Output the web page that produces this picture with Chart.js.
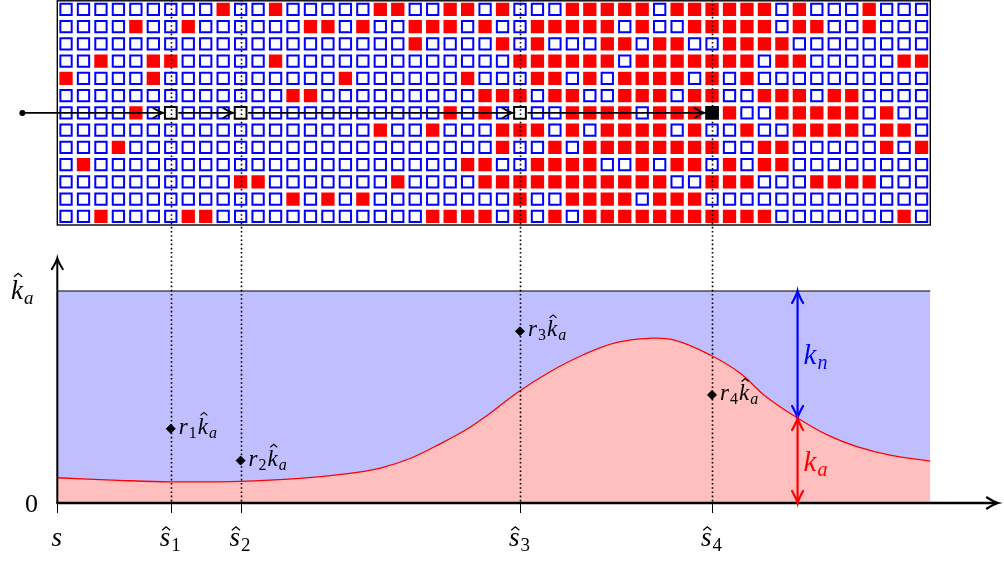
<!DOCTYPE html>
<html>
<head>
<meta charset="utf-8">
<script src="https://cdn.jsdelivr.net/npm/chart.js@4.4.0/dist/chart.umd.min.js"></script>
<style>
  html, body { margin: 0; padding: 0; background: #fff; }
  #wrap { position: relative; width: 1004px; height: 561px; }
  canvas { position: absolute; left: 0; top: 0; }
</style>
</head>
<body>
<div id="wrap">
  <canvas id="curve" width="1004" height="561"></canvas>
  <canvas id="grid" width="1004" height="561"></canvas>
</div>
<script>
// grid: red cells per row (13 rows x 50 columns), the rest are blue
const nCols = 50;
const nRows = 13;
const redCols = [
  [9, 12, 18, 19, 22, 23, 25, 29, 30, 31, 32, 33, 35, 36, 37, 38, 39, 40, 42, 46],
  [4, 7, 14, 15, 17, 20, 21, 22, 24, 27, 28, 29, 30, 31, 33, 36, 37, 38, 39, 40, 42, 43, 46],
  [20, 25, 27, 31, 32, 34, 35, 38, 39, 40, 41],
  [2, 5, 6, 12, 26, 27, 28, 29, 30, 31, 33, 34, 35, 36, 37, 38, 39, 41, 42, 48, 49],
  [0, 5, 16, 23, 27, 28, 30, 32, 33, 34, 35, 37, 39],
  [13, 14, 24, 25, 26, 28, 29, 32, 33, 34, 36, 37, 40, 41, 42, 44, 45],
  [4, 22, 24, 29, 30, 31, 32, 34, 35, 36, 37, 38, 41, 42, 43, 44, 45, 47],
  [18, 21, 25, 26, 27, 29, 31, 32, 33, 34, 36, 39, 42, 43, 44, 45, 47, 48],
  [3, 25, 28, 30, 31, 32, 33, 34, 35, 36, 37, 40, 41, 47, 49],
  [1, 23, 24, 27, 28, 29, 30, 33, 35, 36, 38, 40, 41],
  [10, 11, 19, 24, 25, 26, 27, 28, 29, 30, 31, 32, 33, 34, 37, 38, 39, 43, 44, 45, 46],
  [13, 15, 17, 26, 29, 30, 31, 32, 34, 35, 36],
  [2, 7, 8, 21, 22, 23, 24, 26, 28, 30, 31, 32, 33, 34, 35, 36, 37, 38, 39, 40, 48]
];

// sampled path through row 6
const pathRow = 6;
const pathStart = -2.5;
const pathCols = [6, 10, 26, 37];
const pathSubs = ['1', '2', '3', '4'];
const rValues = [0.35, 0.20, 0.81, 0.51];

// k_a curve (x in grid columns, y as fraction of k-hat_a)
const curveX = [-0.5, 3, 6, 10, 13.4, 16, 18, 19.7, 21.4, 23, 24.1, 25.9, 27.7, 29.6, 31.5, 33.4, 34.8, 36.9, 38.6, 40.1, 41.9, 43.6, 45.3, 47.2, 49.5];
const curveY = [0.119, 0.107, 0.100, 0.102, 0.116, 0.137, 0.165, 0.210, 0.278, 0.350, 0.412, 0.524, 0.618, 0.698, 0.756, 0.777, 0.769, 0.698, 0.613, 0.501, 0.401, 0.321, 0.266, 0.226, 0.198];
const kHat = 1;
const kArrowX = 41.9;
const kArrowY = 0.401;
const xAxisMax = 53.38;
const yAxisTop = 1.155;

const FONT = '"Liberation Serif", "DejaVu Serif", serif';

// draws a small formula: parts = [{t, it, sub, hat}]
function drawMath(ctx, x, y, parts, size, color, align) {
  ctx.save();
  ctx.fillStyle = color;
  ctx.strokeStyle = color;
  ctx.textAlign = 'left';
  ctx.textBaseline = 'alphabetic';
  const fonts = parts.map(p => (p.it ? 'italic ' : '') + Math.round(p.sub ? size * 0.7 : size) + 'px ' + FONT);
  const widths = parts.map((p, i) => { ctx.font = fonts[i]; return ctx.measureText(p.t).width + 1; });
  const total = widths.reduce((a, b) => a + b, 0);
  let cx = align === 'center' ? x - total / 2 : x;
  parts.forEach((p, i) => {
    ctx.font = fonts[i];
    ctx.fillText(p.t, cx, y + (p.sub ? size * 0.18 : 0));
    if (p.hat) {
      const hx = cx + widths[i] * 0.55;
      const hy = y - size * p.hat;
      ctx.lineWidth = Math.max(1.1, size * 0.05);
      ctx.lineJoin = 'miter';
      ctx.beginPath();
      ctx.moveTo(hx - size * 0.15, hy + size * 0.08);
      ctx.lineTo(hx, hy - size * 0.05);
      ctx.lineTo(hx + size * 0.15, hy + size * 0.08);
      ctx.stroke();
    }
    cx += widths[i];
  });
  ctx.restore();
}

// latex style arrow tip, pointing along ang
function arrowHead(ctx, x, y, ang, len, half) {
  ctx.save();
  ctx.translate(x, y);
  ctx.rotate(ang);
  ctx.lineCap = 'round';
  ctx.beginPath();
  ctx.moveTo(-len, -half);
  ctx.quadraticCurveTo(-len * 0.3, -half * 0.15, 0, 0);
  ctx.quadraticCurveTo(-len * 0.3, half * 0.15, -len, half);
  ctx.stroke();
  ctx.restore();
}

// ---------------- lower chart ----------------
const curvePts = curveX.map((x, i) => ({ x: x, y: curveY[i] }));
const rPts = pathCols.map((c, i) => ({ x: c, y: rValues[i] }));

const curvePlugin = {
  id: 'curveDeco',
  afterDraw(chart) {
    const ctx = chart.ctx;
    const xs = chart.scales.x, ys = chart.scales.y;
    const y0 = ys.getPixelForValue(0);
    const x0 = xs.getPixelForValue(-0.5);
    ctx.save();
    ctx.strokeStyle = '#000';
    // axes
    ctx.lineWidth = 2.3;
    ctx.beginPath();
    ctx.moveTo(x0 - 1, y0);
    ctx.lineTo(xs.getPixelForValue(xAxisMax) - 1, y0);
    ctx.stroke();
    arrowHead(ctx, xs.getPixelForValue(xAxisMax), y0, 0, 11, 5.5);
    ctx.lineWidth = 2;
    ctx.beginPath();
    ctx.moveTo(x0, y0);
    ctx.lineTo(x0, ys.getPixelForValue(yAxisTop) + 1);
    ctx.stroke();
    arrowHead(ctx, x0, ys.getPixelForValue(yAxisTop), -Math.PI / 2, 11, 5.5);
    // ticks
    ctx.lineWidth = 1;
    [-0.5].concat(pathCols).forEach(c => {
      const px = Math.round(xs.getPixelForValue(c)) + 0.5;
      ctx.beginPath();
      ctx.moveTo(px, y0);
      ctx.lineTo(px, y0 + 10);
      ctx.stroke();
    });
    ctx.restore();

    // tick labels
    drawMath(ctx, x0, 546, [{ t: 's', it: true }], 27, '#000', 'center');
    pathCols.forEach((c, i) => {
      drawMath(ctx, xs.getPixelForValue(c), 546, [{ t: 's', it: true, hat: 0.66 }, { t: pathSubs[i], sub: true }], 27, '#000', 'center');
    });
    drawMath(ctx, 32, 512, [{ t: '0' }], 26, '#000', 'center');
    drawMath(ctx, 11, ys.getPixelForValue(kHat) + 8, [{ t: 'k', it: true, hat: 0.9 }, { t: 'a', it: true, sub: true }], 27, '#000', 'left');

    // r_i k-hat labels
    rPts.forEach((p, i) => {
      drawMath(ctx, xs.getPixelForValue(p.x) + 8, ys.getPixelForValue(p.y) + 5,
        [{ t: 'r', it: true }, { t: pathSubs[i], sub: true }, { t: 'k', it: true, hat: 0.88 }, { t: 'a', it: true, sub: true }],
        23, '#000', 'left');
    });

    // k_n / k_a arrows
    const ax = xs.getPixelForValue(kArrowX);
    const aTop = ys.getPixelForValue(kHat);
    const aMid = ys.getPixelForValue(kArrowY);
    ctx.save();
    ctx.lineWidth = 2.2;
    ctx.strokeStyle = '#0000ff';
    ctx.beginPath();
    ctx.moveTo(ax, aTop + 1);
    ctx.lineTo(ax, aMid - 1);
    ctx.stroke();
    arrowHead(ctx, ax, aTop, -Math.PI / 2, 12, 5.5);
    arrowHead(ctx, ax, aMid, Math.PI / 2, 12, 5.5);
    ctx.strokeStyle = '#ff0000';
    ctx.beginPath();
    ctx.moveTo(ax, aMid + 1);
    ctx.lineTo(ax, y0 - 1);
    ctx.stroke();
    arrowHead(ctx, ax, aMid, -Math.PI / 2, 12, 5.5);
    arrowHead(ctx, ax, y0, Math.PI / 2, 12, 5.5);
    ctx.restore();
    drawMath(ctx, ax + 6, 364, [{ t: 'k', it: true }, { t: 'n', it: true, sub: true }], 29, '#0000ff', 'left');
    drawMath(ctx, ax + 6, 471, [{ t: 'k', it: true }, { t: 'a', it: true, sub: true }], 29, '#ff0000', 'left');
  }
};

const curveChart = new Chart(document.getElementById('curve').getContext('2d'), {
  type: 'scatter',
  data: {
    datasets: [
      {
        label: 'r k-hat',
        data: rPts,
        order: 0,
        pointStyle: 'rectRot',
        pointRadius: 4.5,
        pointBackgroundColor: '#000',
        pointBorderColor: '#000',
        pointBorderWidth: 1
      },
      {
        label: 'k_a',
        data: curvePts,
        order: 1,
        showLine: true,
        borderColor: '#ff0000',
        borderWidth: 1.3,
        backgroundColor: '#ffbfbf',
        fill: 'origin',
        pointRadius: 0,
        tension: 0.4,
        clip: 4
      },
      {
        label: 'k-hat',
        data: [{ x: -0.5, y: kHat }, { x: 49.5, y: kHat }],
        order: 2,
        showLine: true,
        borderColor: '#000',
        borderWidth: 1.2,
        backgroundColor: '#bfbfff',
        fill: 'origin',
        pointRadius: 0,
        clip: 4
      }
    ]
  },
  options: {
    responsive: false,
    animation: false,
    events: [],
    devicePixelRatio: 1,
    layout: { autoPadding: false, padding: { left: 57.3, right: 6, top: 291, bottom: 58 } },
    plugins: { legend: { display: false }, tooltip: { enabled: false } },
    scales: {
      x: { type: 'linear', min: -0.5, max: xAxisMax, display: false },
      y: { type: 'linear', min: 0, max: kHat, display: false }
    }
  },
  plugins: [curvePlugin]
});

// ---------------- grid on top ----------------
const redPts = [], bluePts = [], markPts = [], markFill = [];
for (let r = 0; r < nRows; r++) {
  for (let c = 0; c < nCols; c++) {
    const isRed = redCols[r].includes(c);
    if (r === pathRow && pathCols.includes(c)) {
      markPts.push({ x: c, y: r });
      markFill.push(isRed ? '#000' : '#fff');
    } else if (isRed) {
      redPts.push({ x: c, y: r });
    } else {
      bluePts.push({ x: c, y: r });
    }
  }
}

const gridPlugin = {
  id: 'gridDeco',
  afterDraw(chart) {
    const ctx = chart.ctx;
    const xs = chart.scales.x, ys = chart.scales.y;
    const left = xs.getPixelForValue(-0.5), right = xs.getPixelForValue(nCols - 0.5);
    const top = ys.getPixelForValue(-0.5), bottom = ys.getPixelForValue(nRows - 0.5);
    ctx.save();
    ctx.strokeStyle = '#000';
    ctx.lineWidth = 1.4;
    ctx.strokeRect(left, top, right - left, bottom - top);

    // path arrows
    const py = ys.getPixelForValue(pathRow);
    const half = 7.5;
    ctx.lineWidth = 1.8;
    let from = xs.getPixelForValue(pathStart);
    pathCols.forEach(c => {
      const to = xs.getPixelForValue(c) - half;
      ctx.beginPath();
      ctx.moveTo(from, py);
      ctx.lineTo(to - 1, py);
      ctx.stroke();
      arrowHead(ctx, to, py, 0, 10, 5);
      from = xs.getPixelForValue(c) + half;
    });
    ctx.fillStyle = '#000';
    ctx.beginPath();
    ctx.arc(xs.getPixelForValue(pathStart), py, 3, 0, Math.PI * 2);
    ctx.fill();

    // dotted guide lines down to the lower axis
    const yEnd = curveChart.scales.y.getPixelForValue(0);
    ctx.lineWidth = 1.6;
    ctx.setLineDash([1.6, 2.6]);
    pathCols.forEach(c => {
      const px = Math.round(xs.getPixelForValue(c)) + 0.5;
      ctx.beginPath();
      ctx.moveTo(px, 0);
      ctx.lineTo(px, yEnd);
      ctx.stroke();
    });
    ctx.restore();
  }
};

new Chart(document.getElementById('grid').getContext('2d'), {
  type: 'scatter',
  data: {
    datasets: [
      {
        label: 'path',
        data: markPts,
        pointStyle: 'rect',
        pointRadius: 8.3,
        pointBackgroundColor: markFill,
        pointBorderColor: '#000',
        pointBorderWidth: 2,
        clip: false
      },
      {
        label: 'red',
        data: redPts,
        pointStyle: 'rect',
        pointRadius: 8,
        pointBackgroundColor: '#ff0000',
        pointBorderColor: '#ff0000',
        pointBorderWidth: 2,
        clip: false
      },
      {
        label: 'blue',
        data: bluePts,
        pointStyle: 'rect',
        pointRadius: 8,
        pointBackgroundColor: '#ffffff',
        pointBorderColor: '#0000ff',
        pointBorderWidth: 2,
        clip: false
      }
    ]
  },
  options: {
    responsive: false,
    animation: false,
    events: [],
    devicePixelRatio: 1,
    layout: { autoPadding: false, padding: { left: 57.3, right: 73.7, top: 0.8, bottom: 336 } },
    plugins: { legend: { display: false }, tooltip: { enabled: false } },
    scales: {
      x: { type: 'linear', min: -0.5, max: nCols - 0.5, display: false },
      y: { type: 'linear', min: -0.5, max: nRows - 0.5, reverse: true, display: false }
    }
  },
  plugins: [gridPlugin]
});
</script>
</body>
</html>
